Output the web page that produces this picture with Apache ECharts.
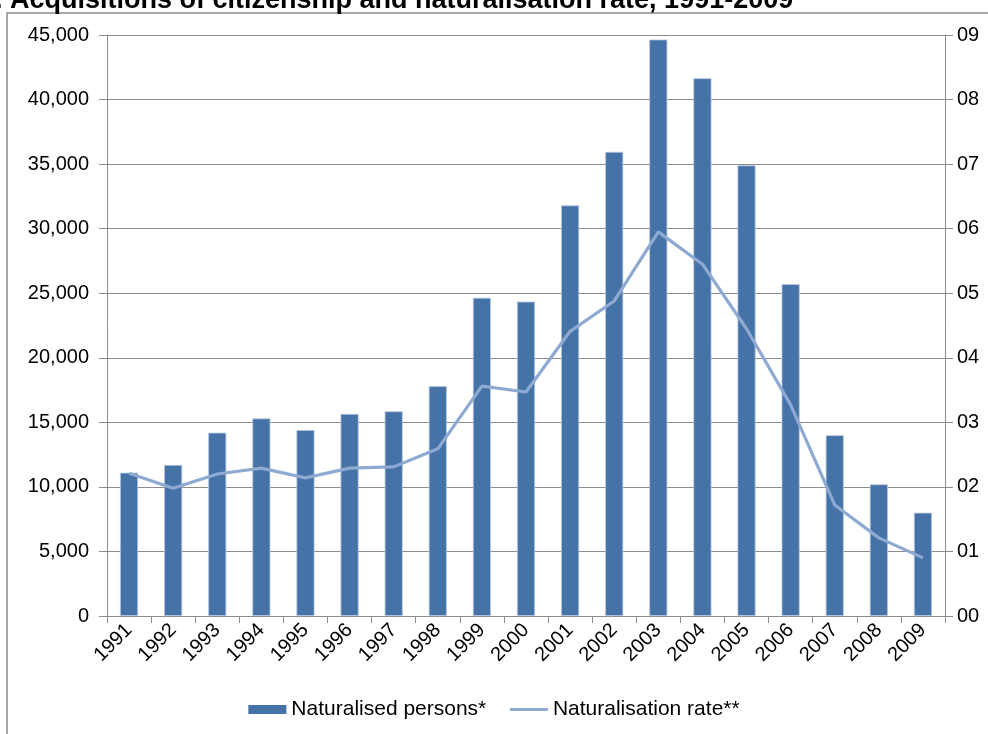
<!DOCTYPE html>
<html><head><meta charset="utf-8">
<script src="https://cdn.jsdelivr.net/npm/echarts@6/dist/echarts.min.js"></script>
<style>html,body{margin:0;padding:0;background:#fff}#c{width:988px;height:734px}</style>
</head><body><div id="c"></div>
<script>
const years = ['1991','1992','1993','1994','1995','1996','1997','1998','1999','2000','2001','2002','2003','2004','2005','2006','2007','2008','2009'];
const naturalisedPersons = [11100,11700,14200,15300,14400,15650,15850,17800,24650,24350,31800,35950,44650,41650,34900,25700,14000,10200,8000];
const naturalisationRate = [2.21,1.98,2.20,2.29,2.14,2.29,2.31,2.59,3.56,3.47,4.41,4.88,5.95,5.45,4.45,3.27,1.72,1.21,0.90];
const leftTicks = {min:0,max:45000,interval:5000};
const rightTicks = {min:0,max:9,interval:1};

const chart = echarts.init(document.getElementById('c'));
const font = 'Liberation Sans, Arial, sans-serif';
chart.setOption({
  animation:false,
  textStyle:{fontFamily:font},
  title:{text:'1. Acquisitions of citizenship and naturalisation rate, 1991-2009',left:-25,top:-18,
    textStyle:{fontSize:27,fontWeight:'bold',color:'#000',fontFamily:font}},
  graphic:[{type:'rect',shape:{x:7,y:13,width:1000,height:800},style:{fill:'none',stroke:'#8c8c8c',lineWidth:1.5},silent:true}],
  grid:{left:107,right:43,top:35,bottom:118},
  legend:{bottom:9,left:'center',itemGap:22,itemWidth:38,itemHeight:9,
    textStyle:{fontSize:21,color:'#000',fontFamily:font},
    data:[{name:'Naturalised persons*',icon:'rect',itemStyle:{borderWidth:0}},
          {name:'Naturalisation rate**',itemStyle:{opacity:0},lineStyle:{width:3.2,color:'#8eaad2'}}]},
  xAxis:{type:'category',data:years,boundaryGap:true,
    axisLine:{lineStyle:{color:'#8c8c8c',width:1}},
    axisTick:{show:true,length:7,lineStyle:{color:'#8c8c8c'}},
    axisLabel:{rotate:45,fontSize:20,color:'#000',margin:11,interval:0,fontFamily:font}},
  yAxis:[
    {type:'value',min:leftTicks.min,max:leftTicks.max,interval:leftTicks.interval,
     axisLine:{show:true,lineStyle:{color:'#8c8c8c'}},
     axisTick:{show:true,length:8,lineStyle:{color:'#8c8c8c'}},
     splitLine:{lineStyle:{color:'#8c8c8c',width:1}},
     axisLabel:{fontSize:20,color:'#000',margin:18,fontFamily:font,
       formatter:v=>v.toLocaleString('en-US')}},
    {type:'value',min:rightTicks.min,max:rightTicks.max,interval:rightTicks.interval,position:'right',
     axisLine:{show:true,lineStyle:{color:'#8c8c8c'}},
     axisTick:{show:true,length:8,lineStyle:{color:'#8c8c8c'}},
     splitLine:{show:false},
     axisLabel:{fontSize:20,color:'#000',margin:12,fontFamily:font,
       formatter:v=>'0'+v}}
  ],
  series:[
    {name:'Naturalised persons*',type:'bar',data:naturalisedPersons,barWidth:'41%',
     itemStyle:{color:'#4572a7',borderColor:'#b8c8de',borderWidth:0.8}},
    {name:'Naturalisation rate**',type:'line',yAxisIndex:1,data:naturalisationRate,
     symbol:'none',lineStyle:{color:'#8eaad2',width:3.2},itemStyle:{color:'#8eaad2'}}
  ]
});
</script></body></html>
